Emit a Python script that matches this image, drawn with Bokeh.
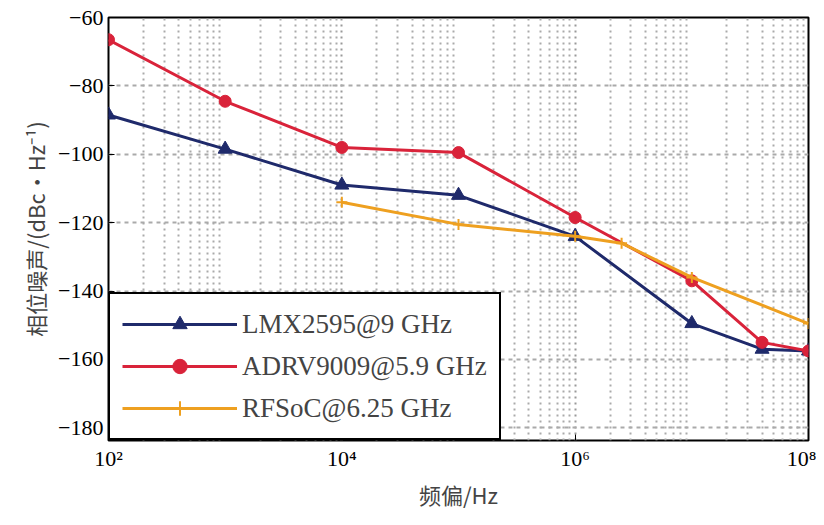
from bokeh.plotting import figure
from bokeh.models import Range1d, FixedTicker, Legend, LegendItem
from bokeh.embed import file_html
from bokeh.resources import INLINE

x_red = [1e2, 1e3, 1e4, 1e5, 1e6, 1e7, 4e7, 1e8]
y_red = [-66.5, -84.5, -98, -99.5, -118.5, -137, -155, -157.5]
x_blue = [1e2, 1e3, 1e4, 1e5, 1e6, 1e7, 4e7, 1e8]
y_blue = [-88.5, -98.5, -109, -112, -124, -149.5, -157, -157.5]
x_org = [1e4, 1e5, 1e6, 2.5e6, 1e7, 1e8]
y_org = [-114, -120.5, -124, -126, -136, -149.5]
names = ["LMX2595@9 GHz", "ADRV9009@5.9 GHz", "RFSoC@6.25 GHz"]
yticks = [-180, -160, -140, -120, -100, -80, -60]
xticks = [1e2, 1e4, 1e6, 1e8]
xtick_labels = {1e2: "10²", 1e4: "10⁴", 1e6: "10⁶", 1e8: "10⁸"}

p = figure(width=816, height=517, x_axis_type="log", output_backend="svg",
           toolbar_location=None, min_border_left=108, min_border_right=8,
           min_border_top=17, min_border_bottom=77)
p.x_range = Range1d(1e2, 1e8)
p.y_range = Range1d(-183.7, -60)
p.outline_line_color = "black"
p.outline_line_width = 2

p.xaxis.ticker = FixedTicker(ticks=xticks,
    minor_ticks=[m * 10**e for e in range(2, 8) for m in range(2, 10)])
p.xaxis.major_label_overrides = {k: v for k, v in xtick_labels.items()}
p.yaxis.ticker = FixedTicker(ticks=yticks)
for ax in (p.xaxis, p.yaxis):
    ax.major_label_text_font = "Liberation Serif"
    ax.major_label_text_font_size = "22px"
    ax.major_label_text_color = "black"
    ax.axis_line_color = None
    ax.major_tick_in = 6
    ax.major_tick_out = 0
    ax.minor_tick_in = 0
    ax.minor_tick_out = 0
    ax.axis_label_text_font = "Noto Sans CJK SC"
    ax.axis_label_text_font_size = "22px"
    ax.axis_label_text_font_style = "normal"
    ax.axis_label_standoff = 4
p.xaxis.axis_label = "频偏/Hz"
p.yaxis.axis_label = "相位噪声/(dBc·Hz⁻¹)"

p.xgrid.grid_line_color = "#999999"
p.xgrid.grid_line_dash = "2 4"
p.xgrid.grid_line_width = 2
p.xgrid.minor_grid_line_color = "#aaaaaa"
p.xgrid.minor_grid_line_dash = "2 4"
p.xgrid.minor_grid_line_width = 2
p.ygrid.grid_line_color = "#aaaaaa"
p.ygrid.grid_line_dash = "4 4"
p.ygrid.grid_line_width = 2

l1 = p.line(x_blue, y_blue, color="#1f2a6b", line_width=3)
s1 = p.scatter(x_blue, y_blue, marker="triangle", size=14, color="#1f2a6b")
l2 = p.line(x_red, y_red, color="#d9233a", line_width=3)
s2 = p.scatter(x_red, y_red, marker="circle", size=12, color="#d9233a")
l3 = p.line(x_org, y_org, color="#eea020", line_width=3)
s3 = p.scatter(x_org, y_org, marker="cross", size=11, color="#eea020", line_width=2)

legend = Legend(items=[LegendItem(label=names[0], renderers=[l1, s1]),
                       LegendItem(label=names[1], renderers=[l2, s2]),
                       LegendItem(label=names[2], renderers=[l3, s3])],
                location="bottom_left", margin=0, padding=12, spacing=6,
                label_text_font="Liberation Serif", label_text_font_size="27px",
                glyph_width=115, glyph_height=36, label_height=36,
                border_line_color="black", border_line_width=2, border_line_alpha=1,
                background_fill_alpha=1)
p.add_layout(legend)

open("out.html", "w").write(file_html(p, INLINE))
